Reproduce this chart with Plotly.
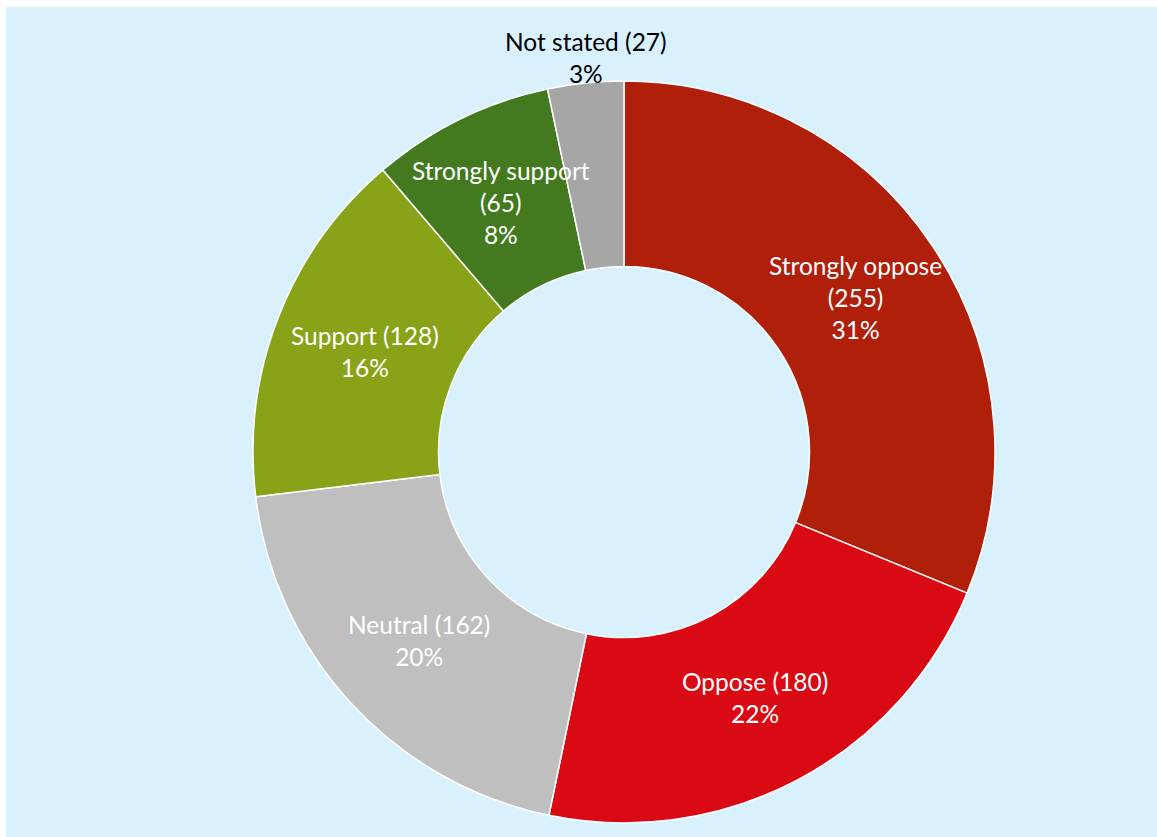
import math
import plotly.graph_objects as go

categories = ["Strongly oppose", "Oppose", "Neutral", "Support", "Strongly support", "Not stated"]
values = [255, 180, 162, 128, 65, 27]
colors = ["#B01F0A", "#DA0A15", "#BFBFBF", "#88A317", "#437A1F", "#A6A6A6"]
wrap_count = [True, False, False, False, True, False]
label_outside = [False, False, False, False, False, True]

total = sum(values)
texts = []
for c, v, w in zip(categories, values, wrap_count):
    sep = "<br>" if w else " "
    texts.append(f"{c}{sep}({v})<br>{round(100 * v / total)}%")

W, H = 1157, 837
cx, cy, R = 624, 452, 371
HOLE = 0.5
FS = 24.5
FONT = "Lato"

fig = go.Figure(go.Pie(
    labels=categories,
    values=values,
    textinfo="none",
    hole=HOLE,
    sort=False,
    direction="clockwise",
    rotation=0,
    marker=dict(colors=colors, line=dict(color="white", width=1.5)),
    domain=dict(x=[(cx - R) / W, (cx + R) / W], y=[1 - (cy + R) / H, 1 - (cy - R) / H]),
    showlegend=False,
))

# slice labels placed on each slice's bisector (middle of the ring, or just above the outer edge)
annotations = []
cum = 0
for t, v, out in zip(texts, values, label_outside):
    mid = 2 * math.pi * (cum + v / 2) / total
    cum += v
    if not out:
        r = R * (1 + HOLE) / 2
        annotations.append(dict(x=(cx + r * math.sin(mid)) / W, y=1 - (cy - r * math.cos(mid)) / H,
                                xref="paper", yref="paper", text=t, showarrow=False,
                                xanchor="center", yanchor="middle",
                                font=dict(color="white", size=FS, family=FONT)))
    else:
        annotations.append(dict(x=(cx + R * math.sin(mid)) / W, y=1 - (cy - R * math.cos(mid)) / H,
                                xref="paper", yref="paper", text=t, showarrow=False,
                                xanchor="center", yanchor="bottom", yshift=-7,
                                font=dict(color="black", size=FS, family=FONT)))

fig.update_layout(
    width=W, height=H,
    margin=dict(l=0, r=0, t=0, b=0),
    paper_bgcolor="white",
    font=dict(family=FONT),
    annotations=annotations,
    shapes=[dict(type="rect", xref="paper", yref="paper", x0=6 / W, x1=1, y0=0, y1=1 - 7 / H,
                 fillcolor="#D9F1FD", line=dict(width=0), layer="below")],
)

fig.write_html("out.html")
